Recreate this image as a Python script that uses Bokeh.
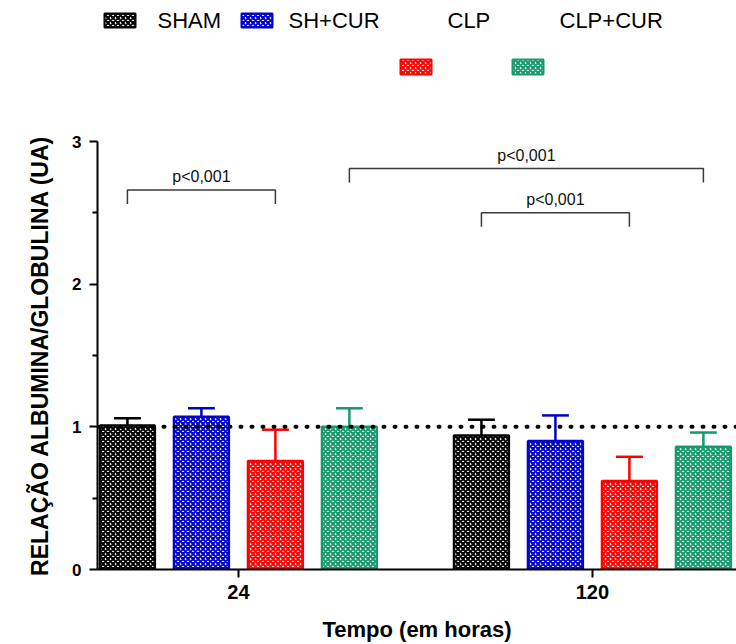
from bokeh.plotting import figure
from bokeh.layouts import column
from bokeh.models import ColumnDataSource, FixedTicker, Span
from bokeh.core.properties import value
from bokeh.embed import file_html
from bokeh.resources import INLINE

# ---------------- data ----------------
times = ["24", "120"]
groups = ["SHAM", "SH+CUR", "CLP", "CLP+CUR"]
colors = ["#000000", "#0000CD", "#FF0000", "#179B6C"]
sham = [1.01, 0.94]
sh_cur = [1.07, 0.90]
clp = [0.76, 0.62]
clp_cur = [1.00, 0.86]
sham_err = [0.05, 0.11]
sh_cur_err = [0.06, 0.18]
clp_err = [0.22, 0.17]
clp_cur_err = [0.13, 0.10]
y_ticks = [0, 1, 2, 3]
y_minor = [0.5, 1.5, 2.5]
reference_level = 1.0
# significance brackets: (time, group) -> (time, group), level
brackets = [(("24", "SHAM"), ("24", "CLP")),
            (("24", "CLP+CUR"), ("120", "CLP+CUR")),
            (("120", "SHAM"), ("120", "CLP"))]
bracket_levels = [2.66, 2.81, 2.50]
bracket_text = ["p<0,001", "p<0,001", "p<0,001"]

means = [sham, sh_cur, clp, clp_cur]
errs = [sham_err, sh_cur_err, clp_err, clp_cur_err]

# ---------------- layout constants ----------------
STEP = 0.209
BAR_W = 0.155
CAP = 0.038
X0, X1 = -0.398, 1.407
W = 736
LEG_H = 131
MAIN_H = 644 - LEG_H
BL, BB, BT = 97, 75, 10
FONT = "Liberation Sans"
HATCH = dict(hatch_pattern="diagonal_cross", hatch_scale=5, hatch_weight=2.1)

def xpos(t, g):
    return times.index(t) + (groups.index(g) - 1.5) * STEP

# ---------------- legend strip (frame aligned with the main plot frame) ----------------
lg = figure(width=W, height=LEG_H, output_backend="svg", toolbar_location=None,
            x_range=(BL, W), y_range=(LEG_H, 0), min_border=0,
            min_border_left=BL, min_border_right=0,
            background_fill_color="white", border_fill_color="white")
lg.axis.visible = False
lg.grid.grid_line_color = None
lg.outline_line_color = None

swatches = [(104, 135, 13, 27), (241, 272, 13, 27), (400, 431, 59, 74), (512, 543, 59, 74)]
label_pos = [(157, 20), (288, 20), (447, 20), (559, 20)]
for gi, g in enumerate(groups):
    l, r, t, b = swatches[gi]
    lg.quad(left=[l], right=[r], top=[t], bottom=[b],
            fill_color="white", line_color=colors[gi], line_width=2,
            hatch_color=colors[gi], **HATCH)
    lx, ly = label_pos[gi]
    lg.text(x=[lx], y=[ly], text=[g], text_align="left",
            text_baseline="middle", text_font=value(FONT), text_font_size="22px",
            text_color="black")

# ---------------- main plot ----------------
p = figure(width=W, height=MAIN_H, output_backend="svg", toolbar_location=None,
           x_range=(X0, X1), y_range=(0, 3),
           min_border_left=BL, min_border_right=0, min_border_top=BT,
           min_border_bottom=BB, background_fill_color="white",
           border_fill_color="white")
p.outline_line_color = None
p.grid.grid_line_color = None

for gi, g in enumerate(groups):
    xs = [xpos(t, g) for t in times]
    tops = means[gi]
    ups = [m + e for m, e in zip(means[gi], errs[gi])]
    src = ColumnDataSource(dict(x=xs, top=tops, up=ups,
                                xl=[x - CAP for x in xs], xr=[x + CAP for x in xs]))
    p.segment(x0="x", y0="top", x1="x", y1="up", source=src,
              line_color=colors[gi], line_width=2.5)
    p.segment(x0="xl", y0="up", x1="xr", y1="up", source=src,
              line_color=colors[gi], line_width=2.5)
    p.vbar(x="x", top="top", bottom=0, width=BAR_W, source=src,
           fill_color="white", line_color=colors[gi], line_width=2.5,
           hatch_color=colors[gi], **HATCH)

p.add_layout(Span(location=reference_level, dimension="width", line_color="black",
                  line_width=4, line_dash="1 10", line_cap="round"))

LEG = 0.098
TXT = 0.092
for (a, b), lvl, txt in zip(brackets, bracket_levels, bracket_text):
    xa, xb = xpos(*a), xpos(*b)
    p.line([xa, xa, xb, xb], [lvl - LEG, lvl, lvl, lvl - LEG],
           line_color="#3a3a3a", line_width=1.5)
    p.text(x=[(xa + xb) / 2], y=[lvl + TXT], text=[txt], text_align="center",
           text_baseline="middle", text_font=value(FONT), text_font_size="16px",
           text_color="#111111")

yax = p.yaxis[0]
yax.ticker = FixedTicker(ticks=y_ticks, minor_ticks=y_minor)
yax.axis_line_width = 2
yax.major_tick_line_width = 2
yax.minor_tick_line_width = 2
yax.major_tick_out = 8
yax.major_tick_in = 0
yax.minor_tick_out = 5
yax.minor_tick_in = 0
yax.major_label_text_font = FONT
yax.major_label_text_font_style = "bold"
yax.major_label_text_font_size = "17px"
yax.major_label_text_color = "black"
yax.major_label_standoff = 8
yax.axis_label = "RELAÇÃO ALBUMINA/GLOBULINA (UA)"
yax.axis_label_text_font = FONT
yax.axis_label_text_font_style = "bold"
yax.axis_label_text_font_size = "23px"
yax.axis_label_text_color = "black"
yax.axis_label_standoff = 16

xax = p.xaxis[0]
xax.ticker = FixedTicker(ticks=[0, 1], minor_ticks=[])
xax.major_label_overrides = {0: times[0], 1: times[1]}
xax.axis_line_width = 2
xax.major_tick_line_width = 2
xax.major_tick_out = 8
xax.major_tick_in = 0
xax.minor_tick_line_color = None
xax.major_label_text_font = FONT
xax.major_label_text_font_style = "bold"
xax.major_label_text_font_size = "20px"
xax.major_label_text_color = "black"
xax.major_label_standoff = 7
xax.axis_label = "Tempo (em horas)"
xax.axis_label_text_font = FONT
xax.axis_label_text_font_style = "bold"
xax.axis_label_text_font_size = "22px"
xax.axis_label_text_color = "black"
xax.axis_label_standoff = 15

layout = column(lg, p, spacing=0)
open("out.html", "w").write(file_html(layout, INLINE))
